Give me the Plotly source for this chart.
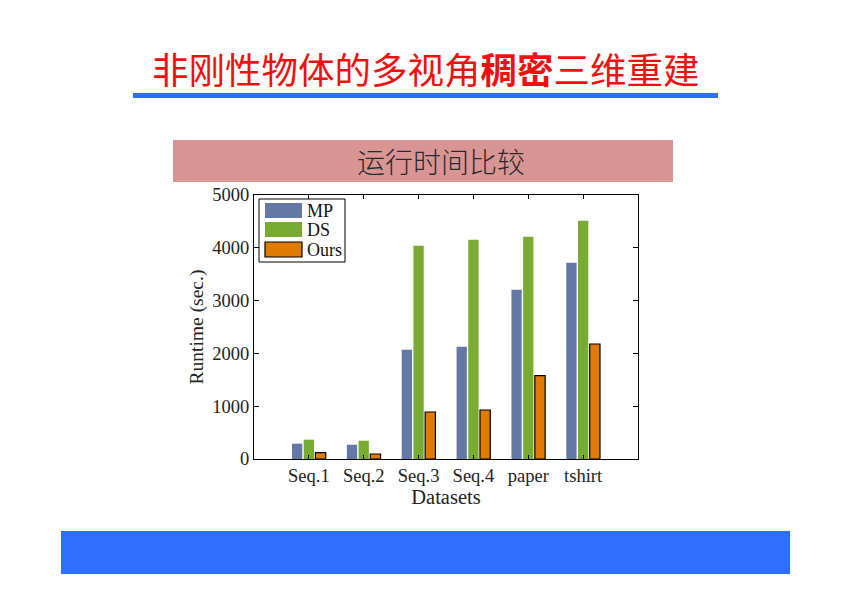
import plotly.graph_objects as go

# data
datasets = ["Seq.1", "Seq.2", "Seq.3", "Seq.4", "paper", "tshirt"]
mp = [290, 270, 2070, 2127, 3206, 3718]
ds = [366, 346, 4040, 4153, 4210, 4510]
ours = [120, 95, 890, 928, 1578, 2178]
series_names = ["MP", "DS", "Ours"]
colors = ["#6478a6", "#77ac30", "#df7c00"]

header = "非刚性物体的多视角<b>稠密</b>三维重建"
subtitle = "运行时间比较"

# the page body has an 8px margin, so work in window pixels and shift
OFF = 8
W, H = 851 - 2 * OFF, 602 - 2 * OFF
L, R, T, B = 254, 638, 195, 459  # plot area in window pixels


def px(x):
    return (x - L) / (R - L)


def py(y):
    return (B - y) / (B - T)


serif = "Liberation Serif"

fig = go.Figure()
for name, vals, col in zip(series_names, [mp, ds, ours], colors):
    line = dict(color="black", width=1.2) if name == "Ours" else dict(width=0)
    fig.add_bar(x=datasets, y=vals, name=name, marker=dict(color=col, line=line))

fig.update_layout(
    width=W, height=H,
    margin=dict(l=L - OFF, r=W - (R - OFF), t=T - OFF, b=H - (B - OFF), autoexpand=False),
    paper_bgcolor="white", plot_bgcolor="white",
    barmode="group", bargap=0.36, bargroupgap=0.12,
    font=dict(family=serif, size=18, color="#222"),
    showlegend=False,
)
fig.update_xaxes(
    range=[-1, 6], showline=True, linecolor="black", linewidth=1, mirror="ticks",
    ticks="inside", ticklen=4, tickcolor="black",
    tickfont=dict(family=serif, size=18.5, color="#222"),
    title=dict(text="Datasets", font=dict(family=serif, size=20.5, color="#222"), standoff=2),
)
fig.update_yaxes(
    range=[0, 5000], dtick=1000, showline=True, linecolor="black", linewidth=1, mirror="ticks",
    ticks="inside", ticklen=5, tickcolor="black", showgrid=False, zeroline=False,
    tickfont=dict(family=serif, size=18.5, color="#222"),
    title=dict(text="Runtime (sec.)", font=dict(family=serif, size=19.5, color="#222"), standoff=3),
)

# slide decorations
shapes = [
    dict(type="rect", x0=px(133), x1=px(718), y0=py(93), y1=py(98),
         fillcolor="#2f6ff5", line=dict(width=0), layer="below"),
    dict(type="rect", x0=px(173), x1=px(673), y0=py(140), y1=py(182),
         fillcolor="#d99594", line=dict(width=0), layer="below"),
    dict(type="rect", x0=px(61), x1=px(790), y0=py(531), y1=py(574),
         fillcolor="#2f6fff", line=dict(width=0), layer="below"),
    # legend box
    dict(type="rect", x0=px(259), x1=px(345), y0=py(199), y1=py(262),
         fillcolor="white", line=dict(color="black", width=1), layer="above"),
]
# legend swatches, big MATLAB-style patches
rows = [(203, 218), (222, 237), (242, 257)]
for (y0, y1), name, col in zip(rows, series_names, colors):
    lw = 1.2 if name == "Ours" else 0
    shapes.append(dict(type="rect", x0=px(265), x1=px(302), y0=py(y1), y1=py(y0),
                       fillcolor=col, line=dict(color="black", width=lw), layer="above"))
    fig.add_annotation(x=px(305), y=py((y0 + y1) / 2), xref="paper", yref="paper",
                       text=name, showarrow=False, xanchor="left", yanchor="middle",
                       font=dict(family=serif, size=18, color="#111"))
for s in shapes:
    s.update(xref="paper", yref="paper")
fig.update_layout(shapes=shapes)

fig.add_annotation(x=px(426), y=py(68), xref="paper", yref="paper", text=header,
                   showarrow=False, xanchor="center", yanchor="middle",
                   font=dict(family="Noto Sans CJK SC", size=36.5, color="#f01010"))
fig.add_annotation(x=px(441), y=py(161), xref="paper", yref="paper", text=subtitle,
                   showarrow=False, xanchor="center", yanchor="middle",
                   font=dict(family="Noto Sans CJK SC", size=28, color="#2a2a2a", weight=300))

fig.write_html("out.html")
